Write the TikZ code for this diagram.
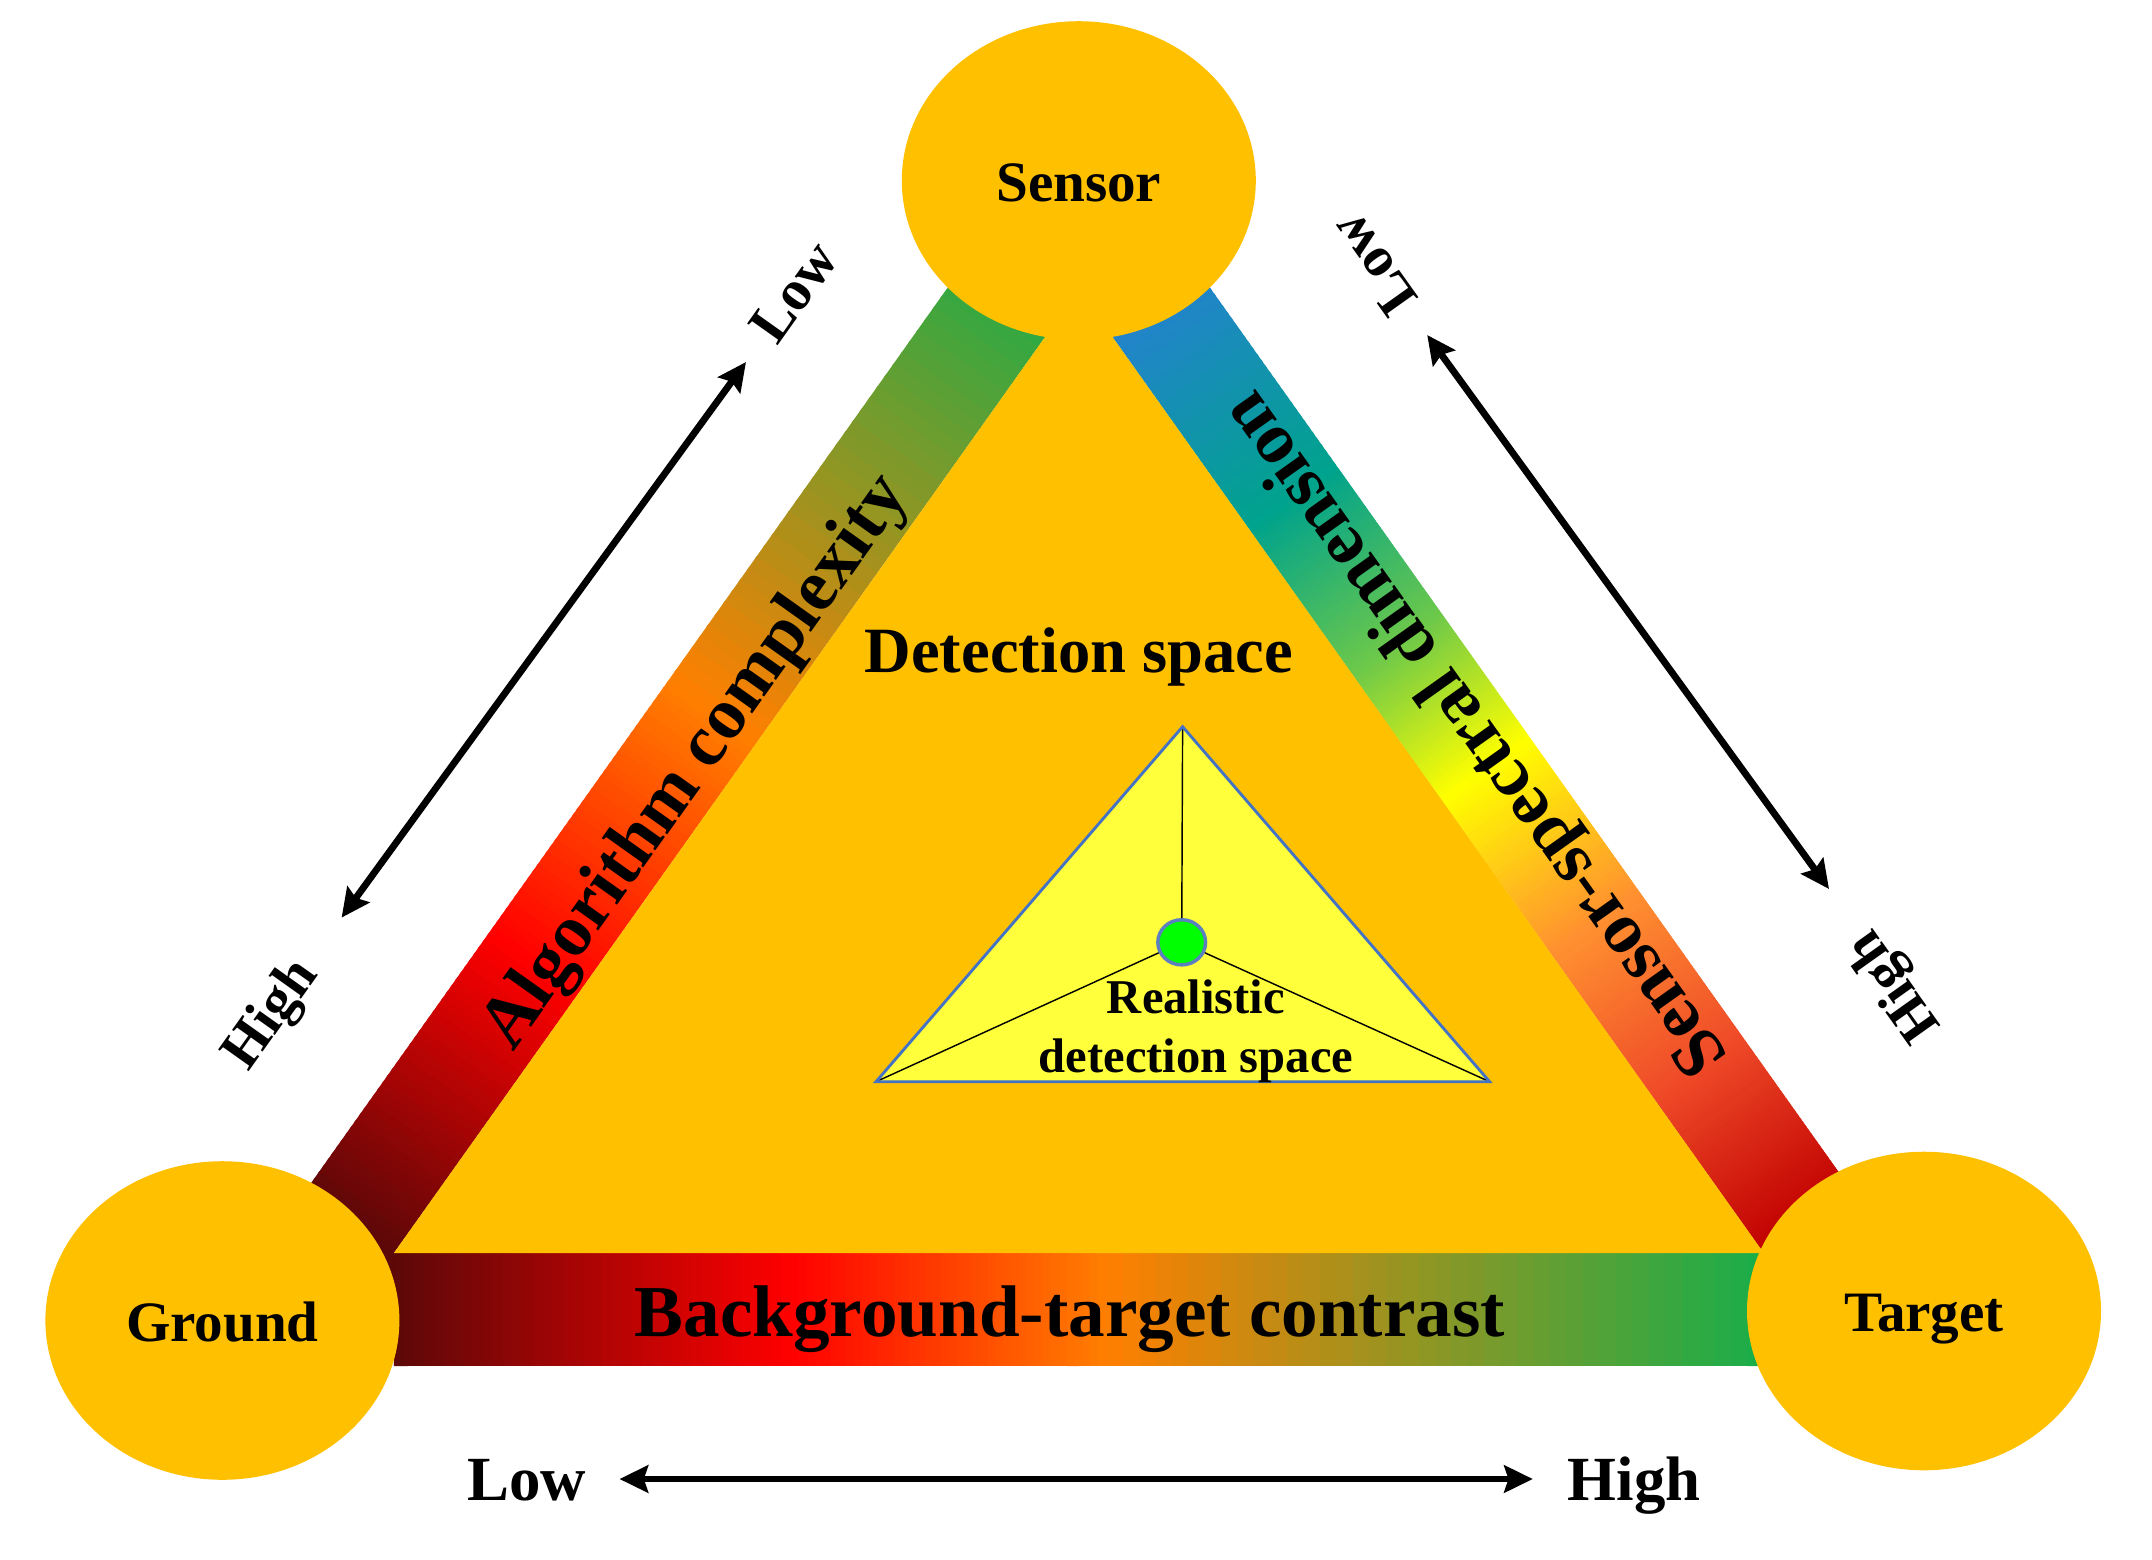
\documentclass[tikz,border=0pt]{standalone}
\usepackage{fontspec}
\setmainfont{Liberation Serif}
\usetikzlibrary{calc,arrows.meta,shapes.geometric}
\definecolor{gold}{HTML}{FFC000}
\definecolor{ylw}{HTML}{FFFF3C}
\definecolor{tblue}{HTML}{4472C4}
\definecolor{dotgreen}{HTML}{00FF00}
\definecolor{dotedge}{HTML}{5B7FBF}
\definecolor{gdk}{HTML}{5C0808}
\definecolor{grd}{HTML}{FF0000}
\definecolor{gor}{HTML}{FF7F00}
\definecolor{ggn}{HTML}{18AE4A}
\definecolor{rbl}{HTML}{2B7BDB}
\definecolor{rtl}{HTML}{00A38C}
\definecolor{rlg}{HTML}{6CC84A}
\definecolor{ryl}{HTML}{FFFF00}
\definecolor{rog}{HTML}{FF9030}
\definecolor{rro}{HTML}{EF4A28}
\definecolor{rdr}{HTML}{C00000}
% gradient band made of thin strips: #1->#2 one edge, #3->#4 other edge, #5 stops
\newcommand{\gradband}[5]{%
  \foreach \fa/\fb/\ca/\cb in {#5}{%
    \foreach \k in {0,...,39}{%
      \pgfmathsetmacro\ua{\fa+(\fb-\fa)*\k/40}%
      \pgfmathsetmacro\ub{\fa+(\fb-\fa)*(\k+1)/40+0.003}%
      \pgfmathtruncatemacro\pc{round(100*(\k+0.5)/40)}%
      \fill[fill=\cb!\pc!\ca] ($(#1)!\ua!(#2)$) -- ($(#1)!\ub!(#2)$) -- ($(#3)!\ub!(#4)$) -- ($(#3)!\ua!(#4)$) -- cycle;
    }%
  }%
}
\begin{document}
\begin{tikzpicture}[x=0.35pt,y=-0.35pt,
  ell/.style={ellipse, fill=gold, inner sep=0pt, minimum width=123.9pt, minimum height=111.5pt,
    font=\bfseries\fontsize{20}{24}\selectfont, text height=14.5pt, text depth=0pt},
  bandlbl/.style={inner sep=0pt, font=\bfseries\fontsize{25.6}{30}\selectfont},
  sidelbl/.style={inner sep=0pt, font=\bfseries\fontsize{20}{24}\selectfont},
  botlbl/.style={inner sep=0pt, anchor=base, font=\bfseries\fontsize{22}{26}\selectfont},
  dblarrow/.style={line width=2.4pt, {Stealth[length=10pt,width=9.5pt,inset=1.5pt]}-{Stealth[length=10pt,width=9.5pt,inset=1.5pt]}}]
\useasboundingbox (0,0) rectangle (2152,1560);
\fill[white] (0,0) rectangle (2152,1560);

% main triangle corners
\coordinate (A) at (1078.8,289.6);
\coordinate (BL) at (393.9,1253);
\coordinate (BR) at (1763.7,1253);

% left band (apex -> ground)
\coordinate (LIe) at (362.0,1297.8);
\coordinate (LOs) at (990.8,227.0);
\coordinate (LOe) at (274.0,1235.2);
\gradband{LOs}{LOe}{A}{LIe}{0/0.45/ggn/gor, 0.45/0.70/gor/grd, 0.70/0.9555/grd/gdk, 0.9555/1/gdk/gdk}

% right band (apex -> target)
\coordinate (ROs) at (1166.8,227.0);
\coordinate (ROe) at (1851.7,1190.4);
\gradband{ROs}{ROe}{A}{BR}{0/0.25/rbl/rtl, 0.25/0.40/rtl/rlg, 0.40/0.53/rlg/ryl, 0.53/0.69/ryl/rog, 0.69/0.84/rog/rro, 0.84/1/rro/rdr}

% bottom band (ground -> target)
\coordinate (BBs) at (393.9,1366);
\coordinate (BBe) at (1763.7,1366);
\fill[gdk] (376,1253) rectangle (394.5,1300);
\gradband{BL}{BR}{BBs}{BBe}{0/0.29/gdk/grd, 0.29/0.52/grd/gor, 0.52/1/gor/ggn}

% detection space
\fill[gold] (A) -- (BL) -- (BR) -- cycle;

% realistic detection space
\coordinate (T1) at (1182.6,726.7);
\coordinate (T2) at (876,1081.7);
\coordinate (T3) at (1489.6,1081.7);
\fill[ylw] (T1) -- (T2) -- (T3) -- cycle;
\node[ellipse, fill=dotgreen, draw=dotedge, line width=1.2pt, inner sep=0pt,
  minimum width=16.7pt, minimum height=15.8pt] (dot) at (1181.7,942.3) {};
\draw[black, line width=0.5pt] (dot) -- (T1);
\draw[black, line width=0.5pt] (dot) -- (T2);
\draw[black, line width=0.5pt] (dot) -- (T3);
\draw[tblue, line width=1pt, line join=miter] (T1) -- (T2) -- (T3) -- cycle;

% vertices
\node[ell] (sensor) at (1078.8,180.5) {Sensor};
\node[ell] (ground) at (222.4,1320.5) {Ground};
\node[ell] (target) at (1924,1311) {Target};

% labels
\node[inner sep=0pt, anchor=base, font=\bfseries\fontsize{22.6}{27}\selectfont] (det) at (1078.8,672) {Detection space};
\node[inner sep=0pt, anchor=base, font=\bfseries\fontsize{17}{20}\selectfont] (real1) at (1196,1013) {Realistic};
\node[inner sep=0pt, anchor=base, font=\bfseries\fontsize{17}{20}\selectfont] (real2) at (1196,1072) {detection space};

\node[bandlbl, anchor=base, rotate=54.6] (alg) at (711.3,773.1) {Algorithm complexity};
\node[bandlbl, anchor=base, rotate=125.4] (ssd) at (1492,722.2) {Sensor-spectral dimension};
\node[bandlbl, anchor=base] (btc) at (1070,1336.7) {Background-target contrast};

% side scales
\node[sidelbl, rotate=54.6] (lowL) at (794,292) {Low};
\node[sidelbl, rotate=54.6] (highL) at (272.5,1015.5) {High};
\node[sidelbl, rotate=125.4] (lowR) at (1373.6,264.7) {Low};
\node[sidelbl, rotate=125.4] (highR) at (1896,985) {High};
\node[botlbl] (lowB) at (527,1500.7) {Low};
\node[botlbl] (highB) at (1634,1500.7) {High};

\coordinate (aL1) at (746,362);
\coordinate (aL2) at (341.6,917.6);
\coordinate (aR1) at (1427.2,335);
\coordinate (aR2) at (1829,889);
\coordinate (aB1) at (619.5,1479);
\coordinate (aB2) at (1532.8,1479);
\draw[dblarrow] (aL2) -- (aL1);
\draw[dblarrow] (aR1) -- (aR2);
\draw[dblarrow] (aB1) -- (aB2);
\end{tikzpicture}
\end{document}
